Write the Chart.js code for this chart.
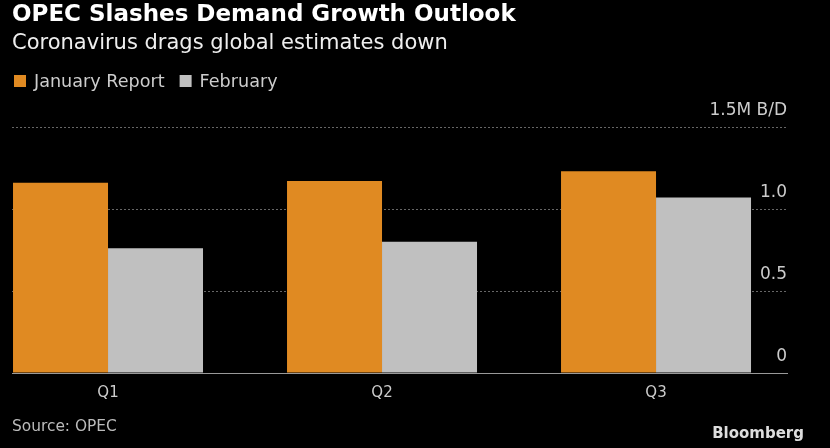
<!DOCTYPE html>
<html>
<head>
<meta charset="utf-8">
<script src="https://cdn.jsdelivr.net/npm/chart.js@4.4.1/dist/chart.umd.min.js"></script>
<style>
  html, body { margin: 0; padding: 0; background: #000; }
  canvas { display: block; }
</style>
</head>
<body>
<canvas id="opec" width="830" height="448"></canvas>
<script>
const quarters = ['Q1', 'Q2', 'Q3']
const januaryReport = [1.16, 1.17, 1.23]
const february = [0.76, 0.80, 1.07]
const yTicks = [0, 0.5, 1.0, 1.5]
const yTickLabels = ['0', '0.5', '1.0', '1.5M B/D']

const FONT = '"DejaVu Sans", sans-serif'

// title, subtitle, legend and footer drawn straight onto the canvas
const headerFooter = {
    id: 'headerFooter',
    afterDraw(chart) {
        const ctx = chart.ctx
        ctx.save()
        ctx.textBaseline = 'alphabetic'
        ctx.textAlign = 'left'

        ctx.fillStyle = '#ffffff'
        ctx.font = 'bold 23px ' + FONT
        ctx.fillText('OPEC Slashes Demand Growth Outlook', 12, 21)

        ctx.fillStyle = '#eeeeee'
        ctx.font = '21px ' + FONT
        ctx.fillText('Coronavirus drags global estimates down', 12, 49)

        ctx.font = '17.6px ' + FONT
        let x = 14
        chart.data.datasets.forEach(ds => {
            ctx.fillStyle = ds.backgroundColor
            ctx.fillRect(x, 75, 12, 12)
            ctx.fillStyle = '#cccccc'
            ctx.fillText(ds.label, x + 20, 87)
            x += 20 + ctx.measureText(ds.label).width + 15
        })

        ctx.fillStyle = '#bbbbbb'
        ctx.font = '15.4px ' + FONT
        ctx.fillText('Source: OPEC', 12, 431)

        ctx.fillStyle = '#dddddd'
        ctx.font = 'bold 15px ' + FONT
        ctx.textAlign = 'right'
        ctx.fillText('Bloomberg', 804, 438)
        ctx.restore()
    }
}

new Chart(document.getElementById('opec'), {
    type: 'bar',
    data: {
        datasets: [{
            label: 'January Report',
            data: januaryReport.map((v, i) => ({x: i, y: v})),
            backgroundColor: '#e08a22'
        }, {
            label: 'February',
            data: february.map((v, i) => ({x: i, y: v})),
            backgroundColor: '#c0c0c0'
        }]
    },
    options: {
        responsive: false,
        animation: false,
        categoryPercentage: 0.6934,
        barPercentage: 1,
        layout: {
            padding: {top: 127, left: 12, right: 43, bottom: 43}
        },
        plugins: {
            legend: {display: false},
            tooltip: {enabled: false}
        },
        scales: {
            x: {
                type: 'linear',
                offset: false,
                min: -0.3504,
                max: 2.478,
                afterBuildTicks: axis => {
                    axis.ticks = quarters.map((q, i) => ({value: i}))
                },
                ticks: {
                    callback: (v, i) => quarters[i],
                    color: '#cccccc',
                    font: {family: FONT, size: 15},
                    padding: 3,
                    maxRotation: 0,
                    autoSkip: false
                },
                grid: {display: false, offset: false},
                border: {display: true, color: '#999999', width: 1, z: 1}
            },
            y: {
                position: 'right',
                min: 0,
                max: 1.5,
                afterBuildTicks: axis => {
                    axis.ticks = yTicks.map(v => ({value: v}))
                },
                ticks: {
                    mirror: true,
                    padding: 0,
                    labelOffset: -16.5,
                    color: '#cccccc',
                    font: {family: FONT, size: 17},
                    callback: (v, i) => yTickLabels[i]
                },
                grid: {color: '#666666', drawTicks: false, lineWidth: 1},
                border: {display: false, dash: [2, 2]}
            }
        }
    },
    plugins: [headerFooter]
})
</script>
</body>
</html>
